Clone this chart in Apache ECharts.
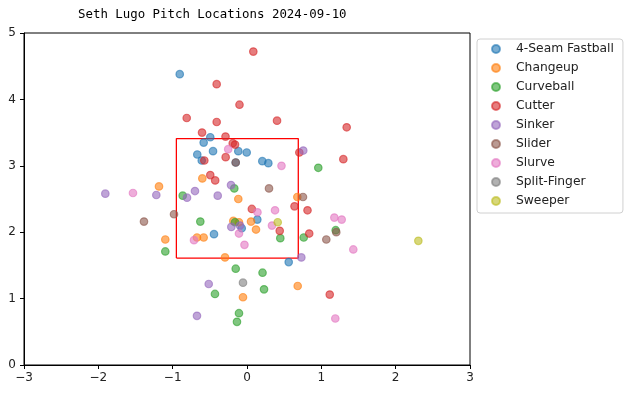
<!DOCTYPE html>
<html>
<head>
<meta charset="utf-8">
<script src="https://cdn.jsdelivr.net/npm/echarts@6/dist/echarts.min.js"></script>
<style>html,body{margin:0;padding:0;background:#fff}#c{width:625px;height:396px}</style>
</head>
<body>
<div id="c"></div>
<script>
const titleText = 'Seth Lugo Pitch Locations 2024-09-10';
const pitchTypes = ['4-Seam Fastball','Changeup','Curveball','Cutter','Sinker','Slider','Slurve','Split-Finger','Sweeper'];
const colors = ['#1f77b4','#ff7f0e','#2ca02c','#d62728','#9467bd','#8c564b','#e377c2','#7f7f7f','#bcbd22'];
const xTicks = [-3,-2,-1,0,1,2,3];
const yTicks = [0,1,2,3,4,5];
const zoneX = [-0.95, 0.69];
const zoneY = [1.61, 3.41];

const fourSeam = [[-0.905,4.38],[-0.494,3.43],[-0.583,3.35],[-0.117,3.22],[-0.004,3.20],[-0.457,3.22],[-0.669,3.17],[-0.609,3.08],[0.206,3.07],[0.287,3.04],[-0.444,1.97],[-0.071,2.06],[0.139,2.19],[0.561,1.55],[-0.152,3.05]];
const changeup = [[-0.601,2.81],[-1.184,2.69],[-0.117,2.50],[0.677,2.53],[-0.184,2.17],[-0.108,2.15],[0.054,2.16],[0.121,2.04],[-1.099,1.89],[-0.673,1.92],[-0.583,1.92],[-0.296,1.62],[-0.054,1.02],[0.682,1.19]];
const curveball = [[-0.171,2.66],[-0.865,2.55],[0.959,2.97],[-0.628,2.16],[-0.161,2.15],[0.448,1.91],[0.763,1.92],[1.193,2.03],[-1.099,1.71],[-0.152,1.45],[0.209,1.39],[0.229,1.14],[-0.431,1.07],[-0.108,0.78],[-0.135,0.65]];
const cutter = [[0.085,4.72],[-0.408,4.23],[-0.101,3.92],[-0.811,3.72],[-0.408,3.66],[0.404,3.68],[1.341,3.58],[-0.605,3.50],[-0.289,3.44],[-0.192,3.34],[-0.161,3.32],[0.704,3.20],[-0.574,3.08],[-0.287,3.13],[1.296,3.10],[-0.494,2.86],[-0.428,2.78],[0.639,2.39],[0.814,2.33],[0.065,2.35],[0.440,2.02],[0.837,1.98],[1.113,1.06]];
const sinker = [[-1.906,2.58],[-1.220,2.56],[-0.807,2.52],[-0.700,2.62],[-0.394,2.55],[-0.215,2.71],[0.757,3.23],[-0.211,2.08],[-0.094,2.10],[0.731,1.62],[-0.515,1.22],[-0.673,0.74]];
const slider = [[-0.152,3.05],[0.296,2.66],[0.753,2.53],[-0.982,2.27],[-1.386,2.16],[1.067,1.89],[1.201,2.00]];
const slurve = [[-0.253,3.25],[0.464,3.00],[-1.534,2.59],[0.141,2.30],[0.377,2.33],[0.336,2.10],[-0.108,1.98],[-0.713,1.88],[-0.034,1.81],[1.175,2.22],[1.274,2.19],[1.430,1.74],[1.188,0.70]];
const splitFinger = [[-0.054,1.24]];
const sweeper = [[0.413,2.15],[2.305,1.87]];

const seriesData = [fourSeam, changeup, curveball, cutter, sinker, slider, slurve, splitFinger, sweeper];

const fmt = v => (v < 0 ? '\u2212' + Math.abs(v) : String(v));

const series = pitchTypes.map((name, i) => ({
  name: name,
  type: 'scatter',
  data: seriesData[i],
  symbol: 'circle',
  symbolSize: 7.5,
  itemStyle: { color: colors[i], opacity: 0.6, borderColor: colors[i], borderWidth: 1.2 },
  emphasis: { disabled: true },
  z: 3
}));

series.push({
  name: 'zone',
  type: 'line',
  data: [[zoneX[0],zoneY[0]],[zoneX[1],zoneY[0]],[zoneX[1],zoneY[1]],[zoneX[0],zoneY[1]],[zoneX[0],zoneY[0]]],
  symbol: 'none',
  lineStyle: { color: '#ff0000', width: 1.3 },
  silent: true,
  z: 2
});

const chart = echarts.init(document.getElementById('c'), null, { renderer: 'canvas' });
chart.setOption({
  animation: false,
  backgroundColor: '#fff',
  title: {
    text: titleText,
    left: 73, top: 4,
    textStyle: { fontFamily: 'DejaVu Sans Mono', fontSize: 12.4, fontWeight: 'normal', color: '#000' }
  },
  grid: { left: 24, right: 155, top: 33, bottom: 31, show: true, borderColor: '#000', borderWidth: 1, containLabel: false },
  xAxis: {
    type: 'value', min: xTicks[0], max: xTicks[xTicks.length-1], interval: 1,
    splitLine: { show: false },
    axisLine: { show: true, onZero: false, lineStyle: { color: '#000', width: 1 } },
    axisTick: { show: true, inside: false, length: 4, lineStyle: { color: '#000' } },
    axisLabel: { formatter: fmt, fontFamily: 'DejaVu Sans', fontSize: 12, color: '#222', margin: 7 }
  },
  yAxis: {
    type: 'value', min: yTicks[0], max: yTicks[yTicks.length-1], interval: 1,
    splitLine: { show: false },
    axisLine: { show: true, onZero: false, lineStyle: { color: '#000', width: 1 } },
    axisTick: { show: true, inside: false, length: 4, lineStyle: { color: '#000' } },
    axisLabel: { formatter: fmt, fontFamily: 'DejaVu Sans', fontSize: 12, color: '#222', margin: 8 }
  },
  legend: {
    data: pitchTypes,
    orient: 'vertical',
    left: 477, top: 39,
    padding: [4, 9, 6, 14],
    itemWidth: 30, itemHeight: 8, itemGap: 7,
    icon: 'circle',
    borderColor: '#d0d0d0', borderWidth: 1, borderRadius: 3,
    backgroundColor: '#fff',
    itemStyle: { opacity: 0.6 },
    textStyle: { fontFamily: 'DejaVu Sans', fontSize: 12.3, color: '#222', lineHeight: 12 }
  },
  series: series
});
</script>
</body>
</html>
